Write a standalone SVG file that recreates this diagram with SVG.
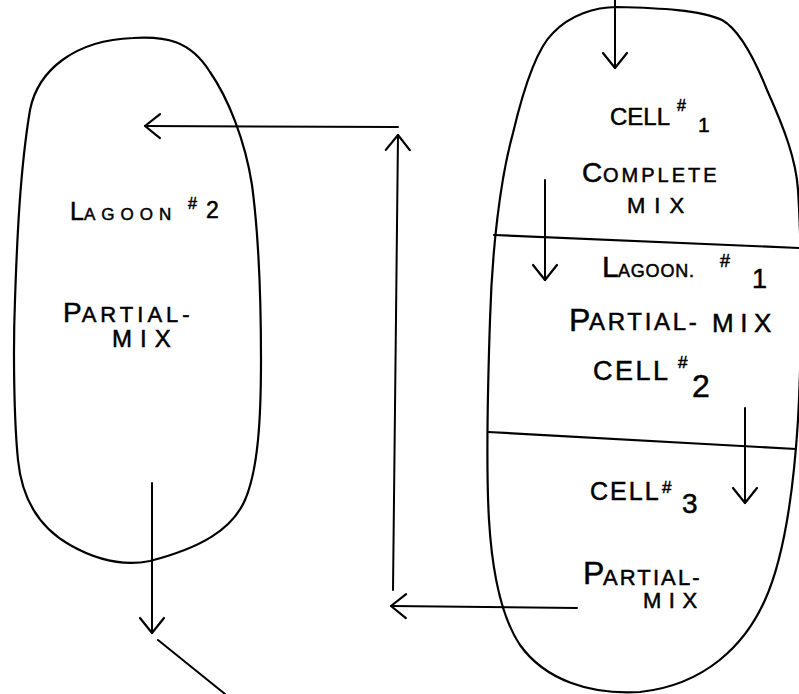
<svg xmlns="http://www.w3.org/2000/svg" width="799" height="694" viewBox="0 0 799 694">
<defs>
<style>
.o{fill:none;stroke:#000;stroke-width:2.2;stroke-linejoin:round;stroke-linecap:round}
.c{fill:none;stroke:#000;stroke-width:2;stroke-linecap:round}
text{font-family:"Liberation Sans",Arial,sans-serif;fill:#000;stroke:#000;stroke-width:0.5}
</style>
<marker id="v" markerUnits="userSpaceOnUse" viewBox="-18 -15 20 30" refX="0" refY="0" markerWidth="20" markerHeight="30" orient="auto" overflow="visible">
<path d="M-15,-12 L0,0 L-15,12" fill="none" stroke="#000" stroke-width="2.2" stroke-linecap="round" stroke-linejoin="round"/>
</marker>
</defs>
<rect width="799" height="694" fill="#fff"/>

<g id="lagoon2">
<path class="o" d="M133,38 C165,36 190,40 210,72 C228,98 245,140 252,185 C258,230 261,300 261,360 C261,420 258,470 245,500 C232,530 200,548 150,561 C125,566 100,562 70,545 C40,528 22,500 18,460 C14,420 13,350 15,300 C17,240 20,170 30,110 C38,70 75,40 133,38 Z"/>
<text><tspan x="70" y="220" font-size="25">L</tspan><tspan font-size="17" letter-spacing="6">AGOON</tspan><tspan x="188" y="209" font-size="16">#</tspan><tspan x="206" y="218" font-size="23">2</tspan></text>
<text x="63" y="322"><tspan font-size="28">P</tspan><tspan font-size="22" letter-spacing="4">ARTIAL-</tspan></text>
<text x="112" y="347" font-size="24" letter-spacing="8">MIX</text>
</g>

<g id="lagoon1">
<path class="o" d="M617,7 C660,8 700,10 722,20 C740,30 755,60 767,90 C785,130 796,160 798,190 C802,250 802,350 798,420 C793,500 783,560 765,600 C745,645 705,685 640,692 C590,695 545,680 520,645 C500,615 492,570 489,520 C486,470 488,380 490,320 C492,250 500,180 513,133 C522,95 535,50 553,33 C570,15 595,7 617,7 Z"/>
<line class="o" x1="494" y1="235" x2="799" y2="248"/>
<line class="o" x1="488" y1="432" x2="796" y2="449"/>
</g>

<g id="cell1">
<text><tspan x="610" y="125" font-size="24">CELL</tspan><tspan x="677" y="111" font-size="16">#</tspan><tspan x="698" y="132" font-size="21">1</tspan></text>
<text><tspan x="582" y="182" font-size="28">C</tspan><tspan x="603" font-size="20" letter-spacing="3">OMPLETE</tspan></text>
<text x="627" y="213" font-size="22" letter-spacing="9">MIX</text>
</g>

<g id="cell2">
<text><tspan x="602" y="277" font-size="30">L</tspan><tspan x="618" font-size="18" letter-spacing="0.8">AGOON.</tspan><tspan x="720" y="267" font-size="18">#</tspan><tspan x="752" y="288" font-size="27">1</tspan></text>
<text><tspan x="569" y="331" font-size="32">P</tspan><tspan x="589" y="330" font-size="24" letter-spacing="2.7">ARTIAL-</tspan><tspan x="712" y="332" font-size="26" letter-spacing="6.5">MIX</tspan></text>
<text><tspan x="593" y="380" font-size="27" letter-spacing="2.5">CELL</tspan><tspan x="678" y="368" font-size="17">#</tspan><tspan x="692" y="397" font-size="32">2</tspan></text>
</g>

<g id="cell3">
<text><tspan x="590" y="500" font-size="25" letter-spacing="2">CELL</tspan><tspan x="662" y="493" font-size="17">#</tspan><tspan x="682" y="513" font-size="28">3</tspan></text>
<text><tspan x="583" y="584" font-size="32">P</tspan><tspan x="603" y="585" font-size="22" letter-spacing="2.1">ARTIAL-</tspan></text>
<text x="643" y="608" font-size="22" letter-spacing="7.5">MIX</text>
</g>

<g id="connectors">
<line class="c" x1="615" y1="0" x2="615" y2="68" marker-end="url(#v)"/>
<line class="c" x1="545" y1="180" x2="545" y2="280" marker-end="url(#v)"/>
<line class="c" x1="745" y1="408" x2="745" y2="503" marker-end="url(#v)"/>
<line class="c" x1="577" y1="608" x2="391" y2="606" marker-end="url(#v)"/>
<line class="c" x1="393" y1="590" x2="398" y2="135" marker-end="url(#v)"/>
<line class="c" x1="398" y1="127" x2="145" y2="126" marker-end="url(#v)"/>
<line class="c" x1="152" y1="483" x2="152" y2="633" marker-end="url(#v)"/>
<line class="c" x1="158" y1="640" x2="225" y2="694"/>
</g>
</svg>
